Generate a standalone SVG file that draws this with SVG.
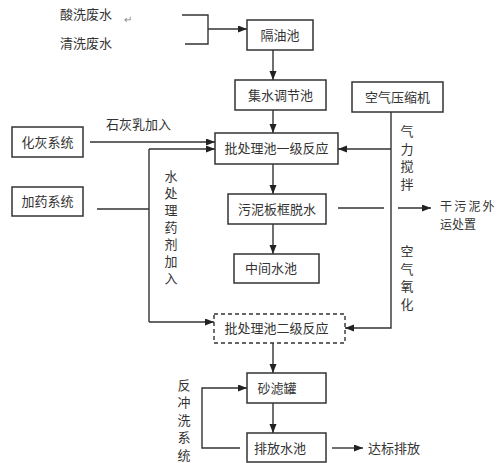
<svg xmlns="http://www.w3.org/2000/svg" width="504" height="463" viewBox="0 0 504 463">
<defs>
<marker id="ah" markerUnits="userSpaceOnUse" markerWidth="10" markerHeight="8" refX="9" refY="3.5" orient="auto">
<path d="M0,0 L9,3.5 L0,7 z" fill="#222"/>
</marker>
<style>
.box{fill:#fff;stroke:#333;stroke-width:1.5}
.dash{fill:#fff;stroke:#333;stroke-width:1.4;stroke-dasharray:4,3}
.ln{fill:none;stroke:#333;stroke-width:1.4}
.ar{fill:none;stroke:#333;stroke-width:1.4;marker-end:url(#ah)}
text{font-family:"Noto Sans CJK SC","Liberation Serif",serif;font-size:13px;fill:#333}
.c{text-anchor:middle}
.v{writing-mode:vertical-rl;text-orientation:upright}
</style>
</defs>
<rect width="504" height="463" fill="#fff"/>

<g id="connectors">
<path class="ln" d="M182,15 H208 V44 H185"/>
<path class="ar" d="M208,29 H247"/>
<path class="ar" d="M273,50 V80"/>
<path class="ar" d="M273,110 V133"/>
<path class="ar" d="M90,142 H215"/>
<path class="ln" d="M97,209 H149 M149,149 V322"/>
<path class="ar" d="M149,149 H215"/>
<path class="ar" d="M149,322 H214"/>
<path class="ar" d="M391,112 V328 H345"/>
<path class="ar" d="M391,149 H338"/>
<path class="ar" d="M273,164 V194"/>
<path class="ln" d="M338,208 H384"/>
<path class="ar" d="M398,208 H431"/>
<path class="ar" d="M273,224 V254"/>
<path class="ar" d="M273,343 V373"/>
<path class="ar" d="M273,403 V433"/>
<path class="ar" d="M240,448 H202 V388 H247"/>
<path class="ar" d="M332,448 H363"/>
</g>

<g id="inputs">
<text x="60" y="19">酸洗废水</text>
<text x="124" y="23" style="font-size:10px;fill:#888">↵</text>
<text x="60" y="48">清洗废水</text>
</g>
<g id="n-geyouchi"><rect class="box" x="247" y="20" width="66" height="30"/><text class="c" x="280" y="40">隔油池</text></g>
<g id="n-jishui"><rect class="box" x="235" y="80" width="91" height="30"/><text class="c" x="280.5" y="100">集水调节池</text></g>
<g id="n-kongya"><rect class="box" x="352" y="82" width="91" height="30"/><text class="c" x="397.5" y="102">空气压缩机</text></g>
<g id="n-yiji"><rect class="box" x="215" y="133" width="123" height="31"/><text class="c" x="276.5" y="153">批处理池一级反应</text></g>
<g id="n-wuni"><rect class="box" x="228" y="194" width="98" height="30"/><text class="c" x="277" y="214">污泥板框脱水</text></g>
<g id="n-zhongjian"><rect class="box" x="234" y="254" width="85" height="29"/><text x="245" y="273">中间水池</text></g>
<g id="n-erji"><rect class="dash" x="214" y="314" width="131" height="29"/><text class="c" x="276.5" y="333">批处理池二级反应</text></g>
<g id="n-shalv"><rect class="box" x="247" y="373" width="79" height="30"/><text class="c" x="277" y="393">砂滤罐</text></g>
<g id="n-paifang"><rect class="box" x="247" y="433" width="79" height="29"/><text class="c" x="280" y="453">排放水池</text></g>
<g id="n-huahui"><rect class="box" x="12" y="127" width="71" height="30"/><text class="c" x="47.5" y="147">化灰系统</text></g>
<g id="n-jiayao"><rect class="box" x="12" y="187" width="71" height="29"/><text class="c" x="47.5" y="206">加药系统</text></g>

<g id="labels">
<text class="c" x="138.5" y="129">石灰乳加入</text>
<text class="v" x="407" y="124.5" style="letter-spacing:4.7px">气力搅拌</text>
<text class="v" x="407" y="244.5" style="letter-spacing:4.7px">空气氧化</text>
<text class="v" x="171" y="169.5" style="letter-spacing:4px">水处理药剂加入</text>
<text class="v" x="184"><tspan x="184" y="378.5">反</tspan><tspan x="184" y="396">冲</tspan><tspan x="184" y="413.5">洗</tspan><tspan x="184" y="431">系</tspan><tspan x="184" y="448.5">统</tspan></text>
<text x="440" y="210.5" style="font-size:12px"><tspan x="440" y="210.5" style="letter-spacing:2.2px">干污泥外</tspan><tspan x="440" y="228.5">运处置</tspan></text>
<text x="368" y="453">达标排放</text>
</g>
</svg>
